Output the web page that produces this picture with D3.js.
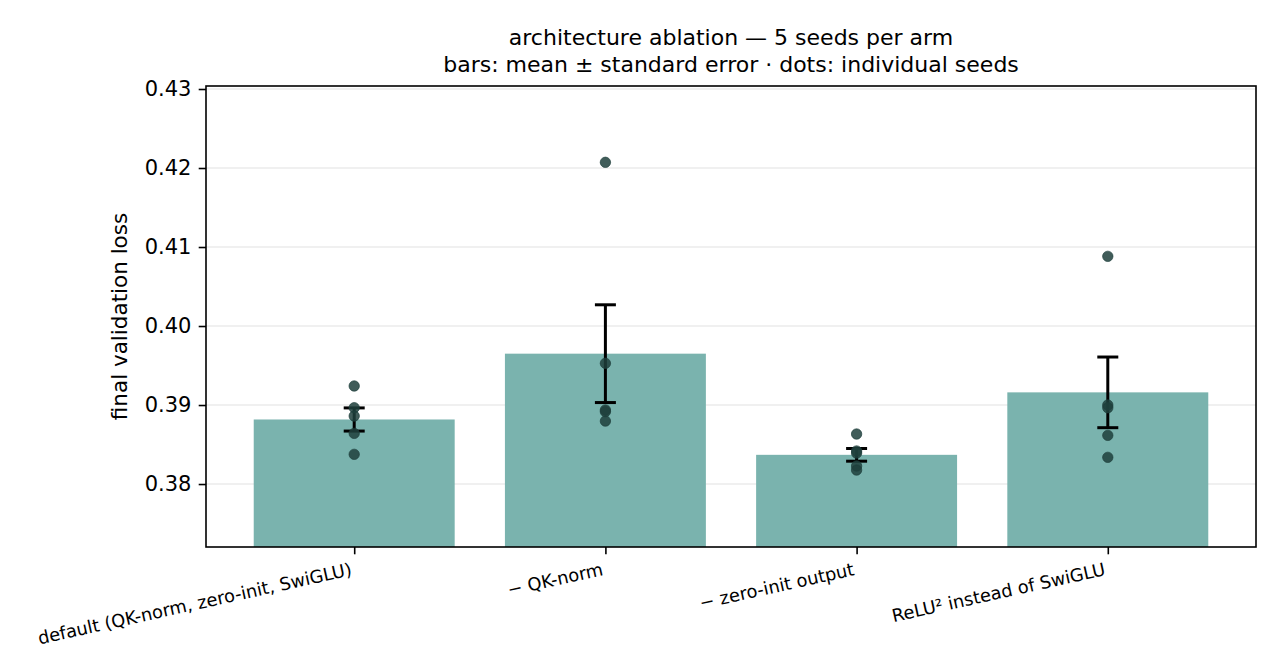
<!DOCTYPE html>
<html>
<head>
<meta charset="utf-8">
<script src="https://cdn.jsdelivr.net/npm/d3@7"></script>
<style>
  html, body { margin: 0; padding: 0; background: #ffffff; }
  svg { display: block; font-family: "DejaVu Sans", sans-serif; }
</style>
</head>
<body>
<svg id="chart" width="1280" height="672"></svg>
<script>
// ---- data ----
const categories = [
  "default (QK-norm, zero-init, SwiGLU)",
  "\u2212 QK-norm",
  "\u2212 zero-init output",
  "ReLU\u00b2 instead of SwiGLU"
];
const seedsDefault = [0.39241, 0.38966, 0.38861, 0.38641, 0.38376];
const seedsNoQKNorm = [0.42072, 0.39528, 0.38937, 0.38916, 0.38797];
const seedsNoZeroInit = [0.38633, 0.38418, 0.38392, 0.38228, 0.38177];
const seedsReLU2 = [0.40882, 0.39000, 0.38966, 0.38616, 0.38338];
const seedValues = [seedsDefault, seedsNoQKNorm, seedsNoZeroInit, seedsReLU2];
const yTicks = [0.38, 0.39, 0.40, 0.41, 0.42, 0.43];
const titleLines = [
  "architecture ablation \u2014 5 seeds per arm",
  "bars: mean \u00b1 standard error \u00b7 dots: individual seeds"
];
const yLabel = "final validation loss";

// ---- derived stats ----
const stats = seedValues.map((s, i) => ({
  i,
  mean: d3.mean(s),
  se: d3.deviation(s) / Math.sqrt(s.length)
}));

// ---- layout ----
const L = 206, R = 1256, T = 86, B = 547;
const svg = d3.select("#chart");

const x = d3.scaleLinear().domain([-0.59, 3.59]).range([L, R]);
const y = d3.scaleLinear().domain([0.37203, 0.43038]).range([B, T]);
const barW = 0.8;

// grid
svg.append("g").selectAll("line").data(yTicks).join("line")
  .attr("x1", L).attr("x2", R)
  .attr("y1", d => y(d)).attr("y2", d => y(d))
  .attr("stroke", "#ebebeb").attr("stroke-width", 1.6);

// bars
svg.append("g").selectAll("rect").data(stats).join("rect")
  .attr("x", d => x(d.i - barW / 2))
  .attr("width", d => x(d.i + barW / 2) - x(d.i - barW / 2))
  .attr("y", d => y(d.mean))
  .attr("height", d => B - y(d.mean))
  .attr("fill", "#7ab3ae");

// error bars
const eb = svg.append("g").attr("stroke", "#000").attr("stroke-width", 3);
const cap = 10.5;
stats.forEach(d => {
  const cx = x(d.i);
  eb.append("line").attr("x1", cx).attr("x2", cx)
    .attr("y1", y(d.mean + d.se)).attr("y2", y(d.mean - d.se));
  eb.append("line").attr("x1", cx - cap).attr("x2", cx + cap)
    .attr("y1", y(d.mean + d.se)).attr("y2", y(d.mean + d.se));
  eb.append("line").attr("x1", cx - cap).attr("x2", cx + cap)
    .attr("y1", y(d.mean - d.se)).attr("y2", y(d.mean - d.se));
});

// dots
const pts = [];
seedValues.forEach((s, i) => s.forEach(v => pts.push({ i, v })));
svg.append("g").selectAll("circle").data(pts).join("circle")
  .attr("cx", d => x(d.i))
  .attr("cy", d => y(d.v))
  .attr("r", 5.2)
  .attr("fill", "#1e3f3c")
  .attr("fill-opacity", 0.85)
  .attr("stroke", "#1e3f3c")
  .attr("stroke-opacity", 0.85)
  .attr("stroke-width", 0.8);

// frame
svg.append("rect").attr("x", L).attr("y", T).attr("width", R - L).attr("height", B - T)
  .attr("fill", "none").attr("stroke", "#000").attr("stroke-width", 1.6);

// y axis
const yAxis = d3.axisLeft(y).tickValues(yTicks).tickFormat(d3.format(".2f"))
  .tickSize(7.3).tickPadding(7.3);
const gy = svg.append("g").attr("transform", `translate(${L},0)`).call(yAxis);
gy.select(".domain").remove();
gy.selectAll(".tick line").attr("stroke", "#000").attr("stroke-width", 1.6);
gy.selectAll(".tick text").attr("font-size", 21).attr("fill", "#000")
  .attr("font-family", "DejaVu Sans");

// x axis
const xAxis = d3.axisBottom(x).tickValues(d3.range(categories.length))
  .tickFormat(i => categories[i]).tickSize(7.3).tickPadding(7.3);
const gx = svg.append("g").attr("transform", `translate(0,${B})`).call(xAxis);
gx.select(".domain").remove();
gx.selectAll(".tick line").attr("stroke", "#000").attr("stroke-width", 1.6);
gx.selectAll(".tick text")
  .attr("font-size", 17.8).attr("fill", "#000").attr("font-family", "DejaVu Sans")
  .attr("text-anchor", "end")
  .attr("y", 0).attr("dy", 0)
  .attr("transform", "translate(-2,28) rotate(-12.5)");

// y label
svg.append("text")
  .attr("transform", `translate(127,${(T + B) / 2}) rotate(-90)`)
  .attr("text-anchor", "middle")
  .attr("font-size", 21.5)
  .attr("fill", "#000")
  .text(yLabel);

// title
svg.append("g").selectAll("text").data(titleLines).join("text")
  .attr("x", (L + R) / 2)
  .attr("y", (d, i) => 45 + i * 27)
  .attr("text-anchor", "middle")
  .attr("font-size", 22)
  .attr("fill", "#000")
  .text(d => d);
</script>
</body>
</html>
